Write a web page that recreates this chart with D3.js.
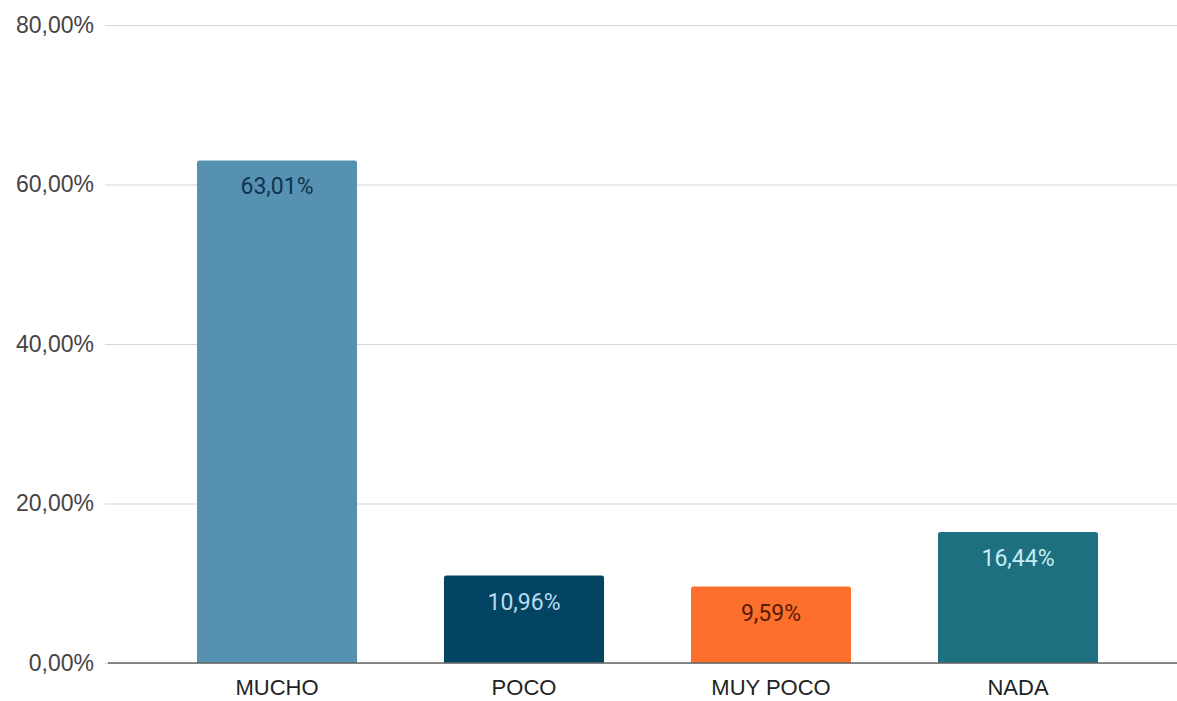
<!DOCTYPE html>
<html>
<head>
<meta charset="utf-8">
<script src="https://cdn.jsdelivr.net/npm/d3@7/dist/d3.min.js"></script>
<style>
  html, body { margin: 0; padding: 0; background: #fff; }
  svg { display: block; font-family: "Liberation Sans", Arial, sans-serif; }
</style>
</head>
<body>
<svg id="chart" width="1177" height="701"></svg>
<script>
// Response shares per answer option
const categories = ["MUCHO", "POCO", "MUY POCO", "NADA"];
const values = [63.01, 10.96, 9.59, 16.44];
const yTicks = [0, 20, 40, 60, 80];

const barColors = ["#5791b1", "#034463", "#fd6f2d", "#1e6f80"];
const labelColors = ["#0f3550", "#b7dbee", "#5b1a04", "#c4eef4"];

const svg = d3.select("#chart");
const plotLeft = 108, plotRight = 1177;
const plotTop = 25, plotBottom = 663;

const x = d3.scaleBand()
  .domain(categories)
  .range([153.5, 1141.5])
  .paddingInner(0.352)
  .paddingOuter(0.176);

const y = d3.scaleLinear().domain([0, 80]).range([plotBottom, plotTop]);

const fmt = v => d3.format(".2f")(v).replace(".", ",") + "%";

// Horizontal gridlines and tick labels
const yAxis = d3.axisLeft(y)
  .tickValues(yTicks)
  .tickSize(-(plotRight - plotLeft))
  .tickPadding(10)
  .tickFormat(fmt);

const gy = svg.append("g")
  .attr("transform", `translate(${plotLeft},0)`)
  .call(yAxis);
gy.select(".domain").remove();
gy.selectAll(".tick line")
  .attr("stroke", "#d6d6d6")
  .attr("stroke-width", 1.2)
  .attr("x1", -3);
gy.selectAll(".tick text")
  .attr("fill", "#444")
  .attr("font-size", 23)
  .attr("x", -14);

// Bars with slightly rounded top corners
const r = 2.5;
svg.append("g").selectAll("path")
  .data(categories)
  .join("path")
  .attr("fill", (d, i) => barColors[i])
  .attr("d", (d, i) => {
    const x0 = x(d), w = x.bandwidth();
    const y0 = y(values[i]), y1 = y(0);
    return `M${x0},${y1}V${y0 + r}Q${x0},${y0} ${x0 + r},${y0}H${x0 + w - r}Q${x0 + w},${y0} ${x0 + w},${y0 + r}V${y1}Z`;
  });

// Baseline
svg.append("line")
  .attr("x1", plotLeft).attr("x2", plotRight)
  .attr("y1", y(0)).attr("y2", y(0))
  .attr("stroke", "#666").attr("stroke-width", 1.6);

// Value labels inside the bars
svg.append("g").selectAll("text")
  .data(categories)
  .join("text")
  .attr("x", d => x(d) + x.bandwidth() / 2)
  .attr("y", (d, i) => y(values[i]) + 34)
  .attr("text-anchor", "middle")
  .attr("font-family", "Roboto, 'Noto Sans', sans-serif")
  .attr("font-size", 23)
  .attr("fill", (d, i) => labelColors[i])
  .text((d, i) => fmt(values[i]));

// Category axis
const gx = svg.append("g")
  .attr("transform", `translate(0,${plotBottom})`)
  .call(d3.axisBottom(x).tickSize(0).tickPadding(16));
gx.select(".domain").remove();
gx.selectAll(".tick text")
  .attr("fill", "#222")
  .attr("font-size", 22);
</script>
</body>
</html>
